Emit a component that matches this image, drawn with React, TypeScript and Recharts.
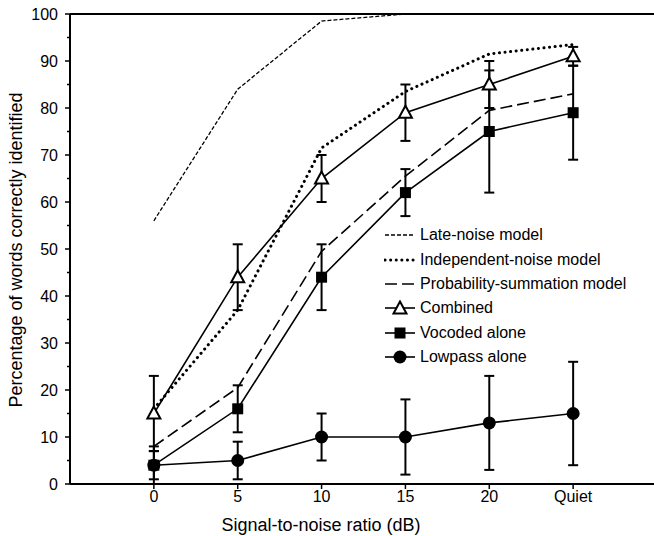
import React from "react"
import { LineChart, Line, XAxis, YAxis, ErrorBar, ReferenceLine } from "recharts"

const snr = [0, 5, 10, 15, 20, 25]
const snrLabels = ["0", "5", "10", "15", "20", "Quiet"]
const yTicks = [0, 5, 10, 15, 20, 25, 30, 35, 40, 45, 50, 55, 60, 65, 70, 75, 80, 85, 90, 95, 100]

const lateNoise = [56, 84, 98.5, 100, 100, 100]
const independentNoise = [16, 37, 71.5, 83.5, 91.5, 93.5]
const probSummation = [8, 20.5, 49.5, 65.5, 79.5, 83]
const combined = [15, 44, 65, 79, 85, 91]
const combinedErr = [8, 7, 5, 6, 5, 2]
const vocoded = [4, 16, 44, 62, 75, 79]
const vocodedErr = [3, 5, 7, 5, 13, 10]
const lowpass = [4, 5, 10, 10, 13, 15]
const lowpassErr = [4, 4, 5, 8, 10, 11]

const data = snr.map((x, i) => ({
  x,
  late: lateNoise[i],
  indep: independentNoise[i],
  prob: probSummation[i],
  combined: combined[i],
  combinedErr: combinedErr[i],
  vocoded: vocoded[i],
  vocodedErr: vocodedErr[i],
  lowpass: lowpass[i],
  lowpassErr: lowpassErr[i],
}))

const FONT = '"Liberation Sans", Arial, Helvetica, sans-serif'
const W = 670
const H = 536

function triangle(cx: number, cy: number, key?: any) {
  return (
    <polygon
      key={key}
      points={`${cx},${cy - 7} ${cx - 6.5},${cy + 5} ${cx + 6.5},${cy + 5}`}
      fill="#fff"
      stroke="#000"
      strokeWidth={2}
    />
  )
}

function square(cx: number, cy: number, key?: any) {
  return <rect key={key} x={cx - 5.5} y={cy - 5.5} width={11} height={11} fill="#000" />
}

function circle(cx: number, cy: number, key?: any) {
  return <circle key={key} cx={cx} cy={cy} r={6.5} fill="#000" />
}

const YTick = (props: any) => {
  const { x, y, payload } = props
  const ax = x + 5
  const major = payload.value % 10 === 0
  return (
    <g>
      <line x1={ax - (major ? 5 : 3)} x2={ax} y1={y} y2={y} stroke="#000" strokeWidth={1.5} />
      {major && (
        <text x={ax - 12} y={y} dy="0.36em" textAnchor="end" fontSize={16} fontFamily={FONT} fill="#000">
          {payload.value}
        </text>
      )}
    </g>
  )
}

// axis titles
const XTitle = () => (
  <text x={321} y={H - 5} textAnchor="middle" fontSize={18} fontFamily={FONT} fill="#000">
    Signal-to-noise ratio (dB)
  </text>
)

const YTitle = () => {
  const x = 22
  const cy = 250
  return (
    <text x={x} y={cy} transform={`rotate(-90 ${x} ${cy})`} textAnchor="middle" fontSize={18} fontFamily={FONT} fill="#000">
      Percentage of words correctly identified
    </text>
  )
}

const legendRows = [
  { label: "Late-noise model", dash: "4 2", width: 1.3, marker: null },
  { label: "Independent-noise model", dash: "0.1 5.5", width: 3, marker: null, round: true },
  { label: "Probability-summation model", dash: "12 5", width: 1.6, marker: null },
  { label: "Combined", dash: undefined, width: 1.6, marker: "tri" },
  { label: "Vocoded alone", dash: undefined, width: 1.6, marker: "sq" },
  { label: "Lowpass alone", dash: undefined, width: 1.6, marker: "ci" },
]

const LegendBox = () => (
  <div
    style={{
      position: "absolute",
      left: 384,
      top: 223,
      fontFamily: FONT,
      fontSize: 16,
      color: "#000",
    }}
  >
    {legendRows.map((r) => (
      <div key={r.label} style={{ display: "flex", alignItems: "center", height: 24.4 }}>
        <svg width={34} height={16} style={{ marginRight: 2 }}>
          <line
            x1={1}
            x2={31}
            y1={8}
            y2={8}
            stroke="#000"
            strokeWidth={r.width}
            strokeDasharray={r.dash}
            strokeLinecap={r.round ? "round" : "butt"}
          />
          {r.marker === "tri" && triangle(16, 8.5)}
          {r.marker === "sq" && square(16, 8)}
          {r.marker === "ci" && circle(16, 8)}
        </svg>
        <span style={{ whiteSpace: "nowrap" }}>{r.label}</span>
      </div>
    ))}
  </div>
)

export default function App() {
  return (
    <div style={{ position: "absolute", left: 0, top: 0, width: 654, height: H, overflow: "hidden", background: "#fff" }}>
      <LineChart width={W} height={H} data={data} margin={{ top: 14, right: 13, bottom: 0, left: 0 }}>
        <XAxis
          dataKey="x"
          type="number"
          domain={[-5, 30]}
          ticks={snr}
          tickFormatter={(v: number) => snrLabels[snr.indexOf(v)]}
          height={52}
          axisLine={{ stroke: "#000", strokeWidth: 2 }}
          tickLine={{ stroke: "#000", strokeWidth: 1.5 }}
          tickSize={5}
          tickMargin={2}
          tick={{ fill: "#000", fontSize: 16, fontFamily: FONT }}
          label={{ content: <XTitle /> }}
        />
        <YAxis
          type="number"
          domain={[0, 100]}
          ticks={yTicks}
          interval={0}
          width={70}
          axisLine={{ stroke: "#000", strokeWidth: 2 }}
          tickLine={false}
          tickSize={5}
          tickMargin={0}
          tick={<YTick />}
          label={{ content: <YTitle /> }}
        />
        <ReferenceLine y={100} stroke="#000" strokeWidth={2} />
        <Line
          dataKey="late"
          stroke="#000"
          strokeWidth={1.3}
          strokeDasharray="4 2"
          dot={false}
          activeDot={false}
          isAnimationActive={false}
        />
        <Line
          dataKey="indep"
          stroke="#000"
          strokeWidth={3}
          strokeDasharray="0.1 5.5"
          strokeLinecap="round"
          dot={false}
          activeDot={false}
          isAnimationActive={false}
        />
        <Line
          dataKey="prob"
          stroke="#000"
          strokeWidth={1.6}
          strokeDasharray="12 5"
          dot={false}
          activeDot={false}
          isAnimationActive={false}
        />
        <Line
          dataKey="lowpass"
          stroke="#000"
          strokeWidth={1.6}
          dot={(p: any) => circle(p.cx, p.cy, p.index)}
          activeDot={false}
          isAnimationActive={false}
        >
          <ErrorBar dataKey="lowpassErr" direction="y" width={5} stroke="#000" strokeWidth={2} />
        </Line>
        <Line
          dataKey="vocoded"
          stroke="#000"
          strokeWidth={1.6}
          dot={(p: any) => square(p.cx, p.cy, p.index)}
          activeDot={false}
          isAnimationActive={false}
        >
          <ErrorBar dataKey="vocodedErr" direction="y" width={5} stroke="#000" strokeWidth={2} />
        </Line>
        <Line
          dataKey="combined"
          stroke="#000"
          strokeWidth={1.6}
          dot={(p: any) => triangle(p.cx, p.cy, p.index)}
          activeDot={false}
          isAnimationActive={false}
        >
          <ErrorBar dataKey="combinedErr" direction="y" width={5} stroke="#000" strokeWidth={2} />
        </Line>
      </LineChart>
      <LegendBox />
    </div>
  )
}
